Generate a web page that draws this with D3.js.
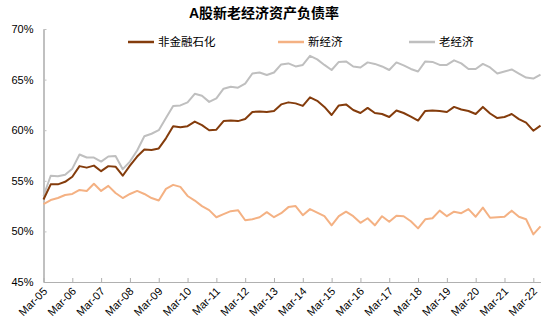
<!DOCTYPE html>
<html><head><meta charset="utf-8">
<script src="https://cdn.jsdelivr.net/npm/d3@7"></script>
<style>
html,body{margin:0;padding:0;background:#fff;}
svg{display:block;font-family:"Liberation Sans",Arial,"Noto Sans CJK SC",sans-serif;}
</style></head>
<body>
<svg id="chart" width="550" height="330"></svg>
<script>
// Quarterly categories Mar-05 .. Jun-22
const months = ["Mar","Jun","Sep","Dec"];
const quarters = [];
for (let y = 5; y <= 22; y++) for (const m of months) { quarters.push(m + "-" + String(y).padStart(2,"0")); }
quarters.splice(quarters.indexOf("Jun-22") + 1);

const seriesNames = ["非金融石化","新经济","老经济"];
const nonFinancial = [53.15,54.65,54.65,54.9,55.4,56.45,56.3,56.5,55.95,56.45,56.4,55.5,56.5,57.4,58.1,58.05,58.2,59.2,60.4,60.3,
  60.4,60.85,60.5,60.0,60.05,60.9,60.95,60.9,61.1,61.8,61.85,61.8,61.9,62.55,62.75,62.65,62.4,63.25,62.9,62.3,
  61.5,62.45,62.55,62.0,61.7,62.2,61.7,61.6,61.3,61.95,61.7,61.35,60.95,61.9,61.95,61.9,61.8,62.3,62.05,61.9,
  61.6,62.3,61.65,61.2,61.3,61.6,61.1,60.75,59.95,60.45];
const newEconomy = [52.7,53.1,53.3,53.6,53.7,54.1,54.0,54.7,54.0,54.5,53.8,53.3,53.7,54.0,53.7,53.3,53.05,54.2,54.6,54.4,
  53.5,53.05,52.5,52.1,51.4,51.7,52.0,52.1,51.1,51.2,51.4,51.9,51.4,51.8,52.4,52.5,51.6,52.2,51.85,51.5,
  50.6,51.5,51.95,51.5,50.85,51.3,50.6,51.5,50.95,51.55,51.5,51.0,50.3,51.2,51.3,52.05,51.5,51.95,51.8,52.2,
  51.45,52.35,51.35,51.4,51.45,52.05,51.45,51.2,49.7,50.5];
const oldEconomy = [53.5,55.5,55.45,55.6,56.2,57.6,57.3,57.3,56.9,57.4,57.45,56.15,56.9,58.0,59.4,59.65,60.0,61.2,62.4,62.45,
  62.75,63.6,63.4,62.8,63.15,64.1,64.3,64.2,64.6,65.6,65.7,65.45,65.7,66.5,66.6,66.3,66.45,67.35,67.0,66.45,
  65.95,66.75,66.8,66.3,66.2,66.7,66.55,66.3,65.95,66.7,66.4,66.05,65.8,66.8,66.75,66.45,66.45,66.9,66.6,66.05,
  66.05,66.55,66.2,65.6,65.8,66.0,65.6,65.2,65.1,65.5];
const yTicks = [45,50,55,60,65,70];
const xTickLabels = quarters.filter(q => q.startsWith("Mar"));
const colors = ["#843C0C","#F4B183","#BFBFBF"];
const title = "A股新老经济资产负债率";

const svg = d3.select("#chart");
const x = d3.scalePoint().domain(quarters).range([43.5, 540.5]);
const y = d3.scaleLinear().domain([45,70]).range([282, 29]);

// title
svg.append("text").attr("x", 264).attr("y", 18).attr("text-anchor","middle")
  .attr("font-size", 14).attr("font-weight","bold").attr("fill","#000").text(title);

// y axis
const gy = svg.append("g").attr("transform","translate(43.5,0)")
  .call(d3.axisLeft(y).tickValues(yTicks).tickSizeInner(-3).tickSizeOuter(0).tickPadding(10).tickFormat(d => d + "%"));
gy.select(".domain").attr("stroke","#c0c0c0").attr("stroke-width",2);
gy.selectAll(".tick line").attr("stroke","#c0c0c0");
gy.selectAll(".tick text").attr("font-size",11).attr("fill","#000").attr("font-family","Liberation Sans, Arial, sans-serif");

// x axis
const gx = svg.append("g").attr("transform","translate(0,282)")
  .call(d3.axisBottom(x).tickValues(xTickLabels).tickSizeInner(-4).tickSizeOuter(0).tickPadding(0));
gx.select(".domain").attr("stroke","#b0b0b0").attr("stroke-width",1);
gx.selectAll(".tick line").attr("stroke","#b0b0b0");
gx.selectAll(".tick text").attr("font-size",11).attr("fill","#000")
  .attr("font-family","Liberation Sans, Arial, sans-serif")
  .attr("text-anchor","end").attr("dy",0)
  .attr("transform","translate(4,10) rotate(-45)");

// lines
const line = d3.line().x((d,i) => x(quarters[i])).y(d => y(d));
const allSeries = [oldEconomy, newEconomy, nonFinancial];
const allColors = [colors[2], colors[1], colors[0]];
allSeries.forEach((s, k) => {
  svg.append("path").datum(s).attr("d", line).attr("fill","none")
    .attr("stroke", allColors[k]).attr("stroke-width", 2).attr("stroke-linejoin","round");
});

// legend
const legendX = [128, 278, 409];
seriesNames.forEach((n, i) => {
  const g = svg.append("g").attr("transform", `translate(${legendX[i]},42)`);
  g.append("line").attr("x1",0).attr("x2",26).attr("y1",0).attr("y2",0)
    .attr("stroke", colors[i]).attr("stroke-width", 2.5);
  g.append("text").attr("x", 30).attr("y", 4).attr("font-size", 11.5).attr("fill","#000")
    .attr("font-family","Noto Sans CJK SC, sans-serif").text(n);
});
</script>
</body></html>
